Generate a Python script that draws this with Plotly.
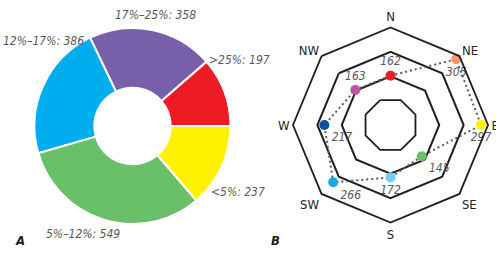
import plotly.graph_objects as go

# ---- Panel A data (donut) ----
pie_labels = [">25%", "17%\u201325%", "12%\u201317%", "5%\u201312%", "<5%"]
pie_values = [197, 358, 386, 549, 237]
pie_colors = ["#ED1C24", "#7760A9", "#00AEEF", "#6ABF69", "#FFF200"]

# ---- Panel B data (radar) ----
directions = ["N", "NE", "E", "SE", "S", "SW", "W", "NW"]
dir_values = [162, 305, 297, 145, 172, 266, 217, 163]
dir_colors = ["#ED1C24", "#F7976A", "#FFF200", "#6ABF69", "#6DCFF6",
              "#1BA6E6", "#0D4EA1", "#C152A5"]
dir_textpos = ["top center", "bottom center", "bottom center", "bottom right",
               "bottom center", "bottom right", "bottom right", "top center"]
ring_values = [160, 240]
radial_max = 320

FONT = "DejaVu Sans Condensed, Liberation Sans Narrow, sans-serif"
W, H = 496, 254
LINE = "#231F20"
GRAY = "#58595B"

fig = go.Figure()

# first slice (>25%) starts at 3 o'clock and runs counter-clockwise
first_frac = pie_values[0] / sum(pie_values)
fig.add_trace(go.Pie(
    labels=pie_labels, values=pie_values, sort=False,
    direction="counterclockwise", rotation=90 - 360 * first_frac, hole=0.39,
    marker=dict(colors=pie_colors, line=dict(color="white", width=2)),
    textinfo="none", hoverinfo="none",
    domain=dict(x=[34.5 / W, 230.5 / W], y=[1 - 224 / H, 1 - 28 / H]),
))

# dotted connecting line (closed)
fig.add_trace(go.Scatterpolar(
    r=dir_values + dir_values[:1], theta=directions + directions[:1],
    mode="lines", line=dict(color="#58595B", width=2, dash="2px,3px"),
    hoverinfo="none", subplot="polar",
))
fig.add_trace(go.Scatterpolar(
    r=dir_values, theta=directions, mode="markers+text",
    marker=dict(color=dir_colors, size=10),
    text=[str(v) for v in dir_values], textposition=dir_textpos,
    textfont=dict(family=FONT, size=12, color=GRAY, style="italic"),
    hoverinfo="none", subplot="polar", cliponaxis=False,
))
# helper trace for the rotated inner octagon
fig.add_trace(go.Scatterpolar(
    r=[0] * len(directions), theta=directions, mode="markers",
    marker=dict(size=1, opacity=0), hoverinfo="none", subplot="polar2",
))

cx, cy, R = 390.5, 125.0, 97.5
ri = 27.0
fig.update_layout(
    width=W, height=H, margin=dict(l=0, r=0, t=0, b=0),
    paper_bgcolor="white", plot_bgcolor="white", showlegend=False,
    polar=dict(
        domain=dict(x=[(cx - R) / W, (cx + R) / W], y=[1 - (cy + R) / H, 1 - (cy - R) / H]),
        gridshape="linear", bgcolor="rgba(0,0,0,0)",
        angularaxis=dict(direction="clockwise", rotation=90, showgrid=False,
                         showline=True, linecolor=LINE, linewidth=1.8, ticks="",
                         categoryorder="array", categoryarray=directions,
                         tickfont=dict(family=FONT, size=13, color=LINE)),
        radialaxis=dict(range=[0, radial_max], tickvals=ring_values, showticklabels=False,
                        ticks="", showline=False, gridcolor=LINE, gridwidth=1.8),
    ),
    polar2=dict(
        domain=dict(x=[(cx - ri) / W, (cx + ri) / W], y=[1 - (cy + ri) / H, 1 - (cy - ri) / H]),
        gridshape="linear", bgcolor="rgba(0,0,0,0)",
        angularaxis=dict(direction="clockwise", rotation=90 - 22.5, showgrid=False,
                         showline=True, linecolor=LINE, linewidth=1.8, ticks="",
                         showticklabels=False, categoryorder="array", categoryarray=directions),
        radialaxis=dict(visible=False, range=[0, 1]),
    ),
)

# donut labels
label_pos = [(239, 60), (155.5, 15), (43, 41), (83, 234), (238, 192)]
for lab, val, (px, py) in zip(pie_labels, pie_values, label_pos):
    fig.add_annotation(x=px / W, y=1 - py / H, xref="paper", yref="paper",
                       text=f"{lab}: {val}", showarrow=False,
                       xanchor="center", yanchor="middle",
                       font=dict(family=FONT, size=12, color=GRAY, style="italic"))

for letter, (px, py) in [("A", (20, 240)), ("B", (275, 240))]:
    fig.add_annotation(x=px / W, y=1 - py / H, xref="paper", yref="paper",
                       text=letter, showarrow=False, xanchor="center", yanchor="middle",
                       font=dict(family=FONT, size=13, color="#231F20",
                                 weight="bold", style="italic"))

fig.write_html("out.html", config={"displayModeBar": False},
               post_script="document.body.style.margin='0';")
